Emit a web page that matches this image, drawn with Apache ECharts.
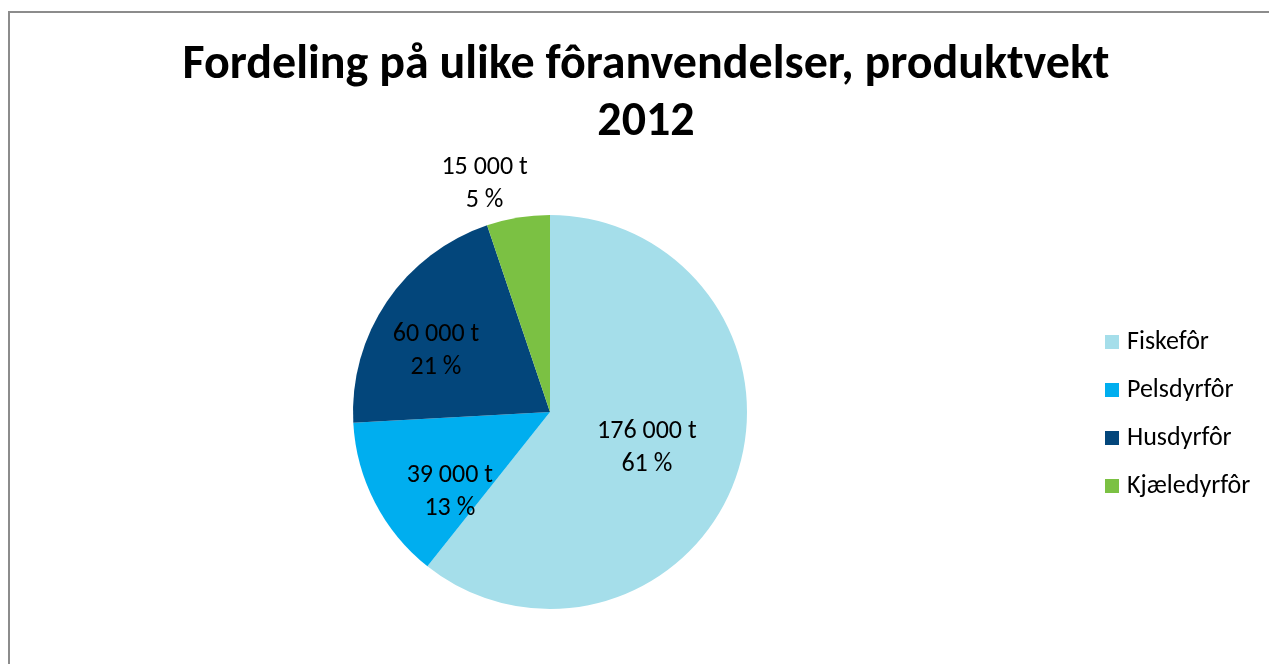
<!DOCTYPE html>
<html>
<head>
<meta charset="utf-8">
<script src="https://cdn.jsdelivr.net/npm/echarts@6/dist/echarts.min.js"></script>
<style>
  html, body { margin: 0; padding: 0; background: #fff; overflow: hidden; }
  #chart { width: 1269px; height: 664px; }
</style>
</head>
<body>
<div id="chart"></div>
<script>
// feed usage 2012, product weight (tonnes)
const categories = ['Fiskefôr', 'Pelsdyrfôr', 'Husdyrfôr', 'Kjæledyrfôr'];
const tonnes = [176000, 39000, 60000, 15000];
const colors = ['#A5DEEA', '#00AEEF', '#03467B', '#7BC143'];

const FONT = 'Carlito, Lato, sans-serif';

// nudges from the default inside position so labels sit where Excel put them
const labelNudge = [[1, 3], [-10, 33], [-30, -4], [-49, -128]];

const fmt = v => String(v).replace(/\B(?=(\d{3})+(?!\d))/g, ' ');

const chart = echarts.init(document.getElementById('chart'), null, { renderer: 'canvas' });
chart.setOption({
  backgroundColor: '#fff',
  animation: false,
  title: {
    text: 'Fordeling på ulike fôranvendelser, produktvekt\n2012',
    left: 641, top: 32, textAlign: 'center',
    textStyle: { fontFamily: FONT, fontWeight: 'bold', fontSize: 48, lineHeight: 57, color: '#000' }
  },
  legend: {
    orient: 'vertical', left: 1100, top: 324,
    itemWidth: 14, itemHeight: 14, itemGap: 22,
    icon: 'rect',
    textStyle: { fontFamily: FONT, fontSize: 26, color: '#000', padding: [0, 0, 0, 3] },
    data: categories
  },
  graphic: [{
    type: 'rect', silent: true,
    shape: { x: 9, y: 12, width: 1400, height: 800 },
    style: { fill: 'none', stroke: '#8c8c8c', lineWidth: 2 }
  }],
  series: [{
    type: 'pie',
    center: [550, 412], radius: 197,
    startAngle: 90, clockwise: true,
    color: colors,
    label: {
      position: 'inside', fontFamily: FONT, fontSize: 26, lineHeight: 33, color: '#000',
      formatter: p => fmt(p.value) + ' t\n' + Math.round(p.percent) + ' %'
    },
    labelLine: { show: false },
    labelLayout: p => ({ dx: labelNudge[p.dataIndex][0], dy: labelNudge[p.dataIndex][1] }),
    emphasis: { disabled: true },
    data: categories.map((c, i) => ({ name: c, value: tonnes[i] }))
  }]
});
</script>
</body>
</html>
